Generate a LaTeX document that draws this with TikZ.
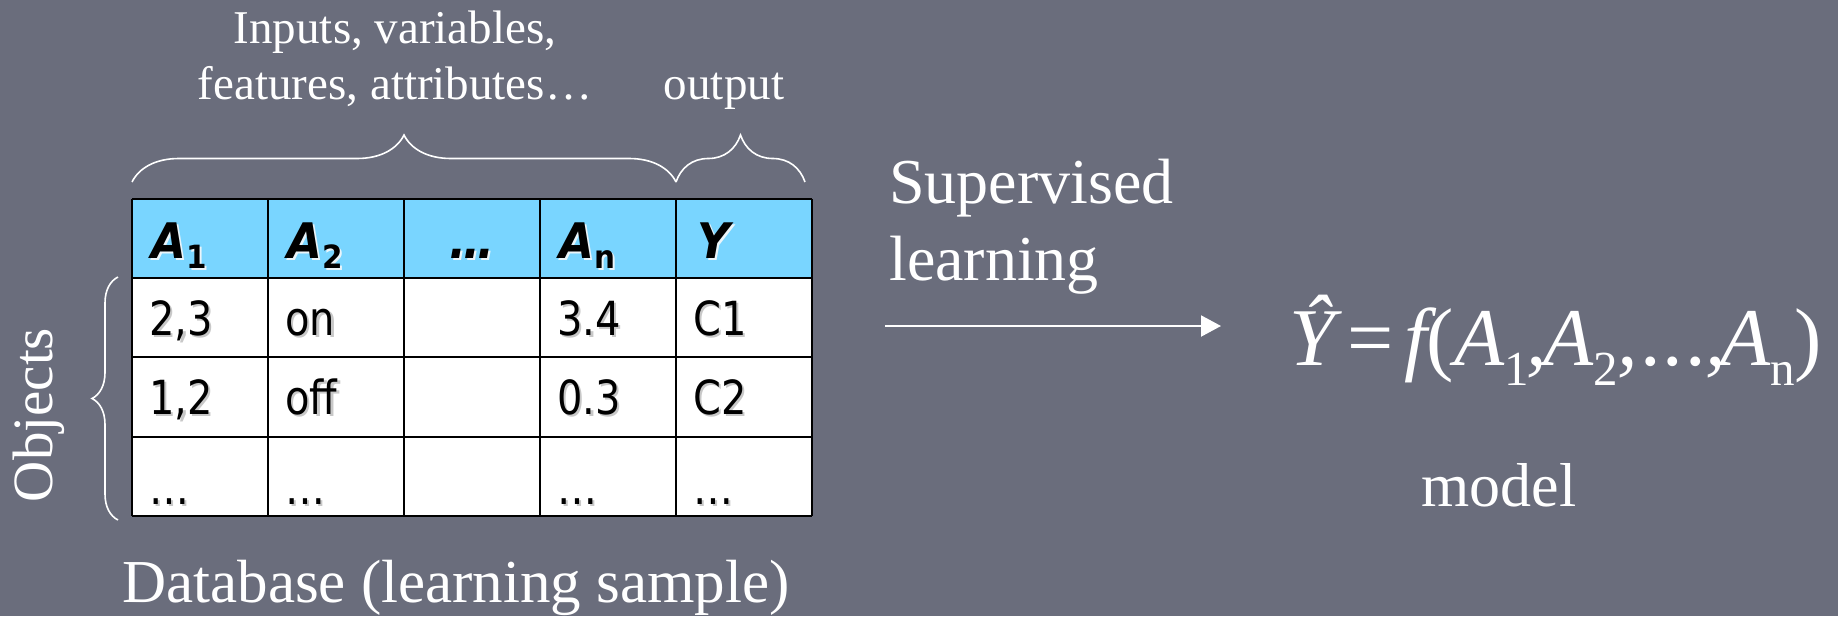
\documentclass[tikz,border=0pt]{standalone}
\usepackage{fontspec}
\setmainfont{Liberation Serif}
\newfontfamily\tabfont[FakeStretch=0.85]{DejaVu Sans}
\newfontfamily\hdrfont[FakeStretch=0.92]{DejaVu Sans}
\usetikzlibrary{decorations.pathreplacing,arrows.meta}
\definecolor{bg}{RGB}{106,109,124}
\definecolor{hdr}{RGB}{121,213,255}
\definecolor{shdata}{RGB}{200,200,200}
\definecolor{shhead}{RGB}{235,245,250}
\newcommand\lsub[1]{\raisebox{-20pt}{\fontsize{49}{49}\selectfont\upshape #1}}
\newcommand\hsub[1]{\raisebox{-10pt}{\fontsize{32}{32}\selectfont\upshape #1}}
\newcommand\shd[2]{\leavevmode\rlap{\kern2.5pt\raisebox{-2.5pt}{\color{#1}#2}}#2}
\begin{document}
\begin{tikzpicture}[x=1pt,y=-1pt,
  lbl/.style={text=white,inner sep=0pt},
  cell/.style={font=\tabfont\fontsize{47}{47}\selectfont,text=black,inner sep=0pt,anchor=base west},
  hcell/.style={font=\hdrfont\bfseries\itshape\fontsize{49}{49}\selectfont,text=black,inner sep=0pt,anchor=base west},
  bracestyle/.style={draw=white,line width=1.6pt,decorate,decoration={brace,amplitude=#1}},
  gridline/.style={draw=black,line width=2.5pt}
]
\fill[bg] (0,0) rectangle (1838,616);
\useasboundingbox (0,0) rectangle (1838,616);

% table
\fill[hdr] (132,199) rectangle (812,278);
\fill[white] (132,278) rectangle (812,516);
\foreach \x in {132,268,404,540,676,812} \draw[gridline] (\x,199) -- (\x,516);
\foreach \y in {199,278,357,437,516} \draw[gridline] (132,\y) -- (812,\y);

% header
\node[hcell] (h1) at (151,258) {\shd{shhead}{A\hsub{1}}};
\node[hcell] (h2) at (287,258) {\shd{shhead}{A\hsub{2}}};
\node[hcell,anchor=base] (h3) at (472,258) {\shd{shhead}{\dots}};
\node[hcell] (h4) at (559,258) {\shd{shhead}{A\hsub{n}}};
\node[hcell] (h5) at (697,258) {\shd{shhead}{Y}};

% rows
\node[cell] (r11) at (149,335) {\shd{shdata}{2,3}};
\node[cell] (r12) at (285,335) {\shd{shdata}{on}};
\node[cell] (r14) at (557,335) {\shd{shdata}{3.4}};
\node[cell] (r15) at (693,335) {\shd{shdata}{C1}};
\node[cell] (r21) at (149,414) {\shd{shdata}{1,2}};
\node[cell] (r22) at (285,414) {\shd{shdata}{off}};
\node[cell] (r24) at (557,414) {\shd{shdata}{0.3}};
\node[cell] (r25) at (693,414) {\shd{shdata}{C2}};
\node[cell] (r31) at (149,504) {\shd{shdata}{\dots}};
\node[cell] (r32) at (285,504) {\shd{shdata}{\dots}};
\node[cell] (r34) at (557,504) {\shd{shdata}{\dots}};
\node[cell] (r35) at (693,504) {\shd{shdata}{\dots}};

% top labels
\node[lbl,anchor=base,font=\fontsize{47}{47}\selectfont] (inputs1) at (395,43) {Inputs, variables,};
\node[lbl,anchor=base,font=\fontsize{47}{47}\selectfont] (inputs2) at (395,99) {features, attributes\dots};
\node[lbl,anchor=base,font=\fontsize{47}{47}\selectfont] (output) at (724,99) {output};

% braces
\draw[bracestyle=47] (132,182) -- (676,182);
\draw[bracestyle=47] (676,182) -- (805,182);
\draw[bracestyle=26] (118,520) -- (118,277);

\node[lbl,rotate=90,anchor=base,font=\fontsize{57}{57}\selectfont] (objects) at (52,415) {Objects};

\node[lbl,anchor=base,font=\fontsize{61}{61}\selectfont] (db) at (456,602) {Database (learning sample)};

\node[lbl,anchor=base west,font=\fontsize{64}{64}\selectfont] (sup1) at (889,203) {Supervised};
\node[lbl,anchor=base west,font=\fontsize{64}{64}\selectfont] (sup2) at (889,280) {learning};

\coordinate (arrS) at (885,326);
\coordinate (arrE) at (1221,326);
\draw[white,line width=2pt,-{Triangle[length=20pt,width=21pt]}] (arrS) -- (arrE);

\node[lbl,anchor=base west,font=\fontsize{82}{82}\selectfont] (formula) at (1289,365)
  {\itshape Ŷ\upshape\kern13pt=\kern10pt\itshape f\upshape(\itshape A\lsub{1}\kern-2pt,\kern-4pt\itshape A\lsub{2},\kern4pt.\kern2pt.\kern2pt.\kern-2pt,\kern-6pt\itshape A\lsub{n}\upshape)};

\node[lbl,anchor=base,font=\fontsize{62}{62}\selectfont] (modellbl) at (1499,506) {model};
\end{tikzpicture}
\end{document}
